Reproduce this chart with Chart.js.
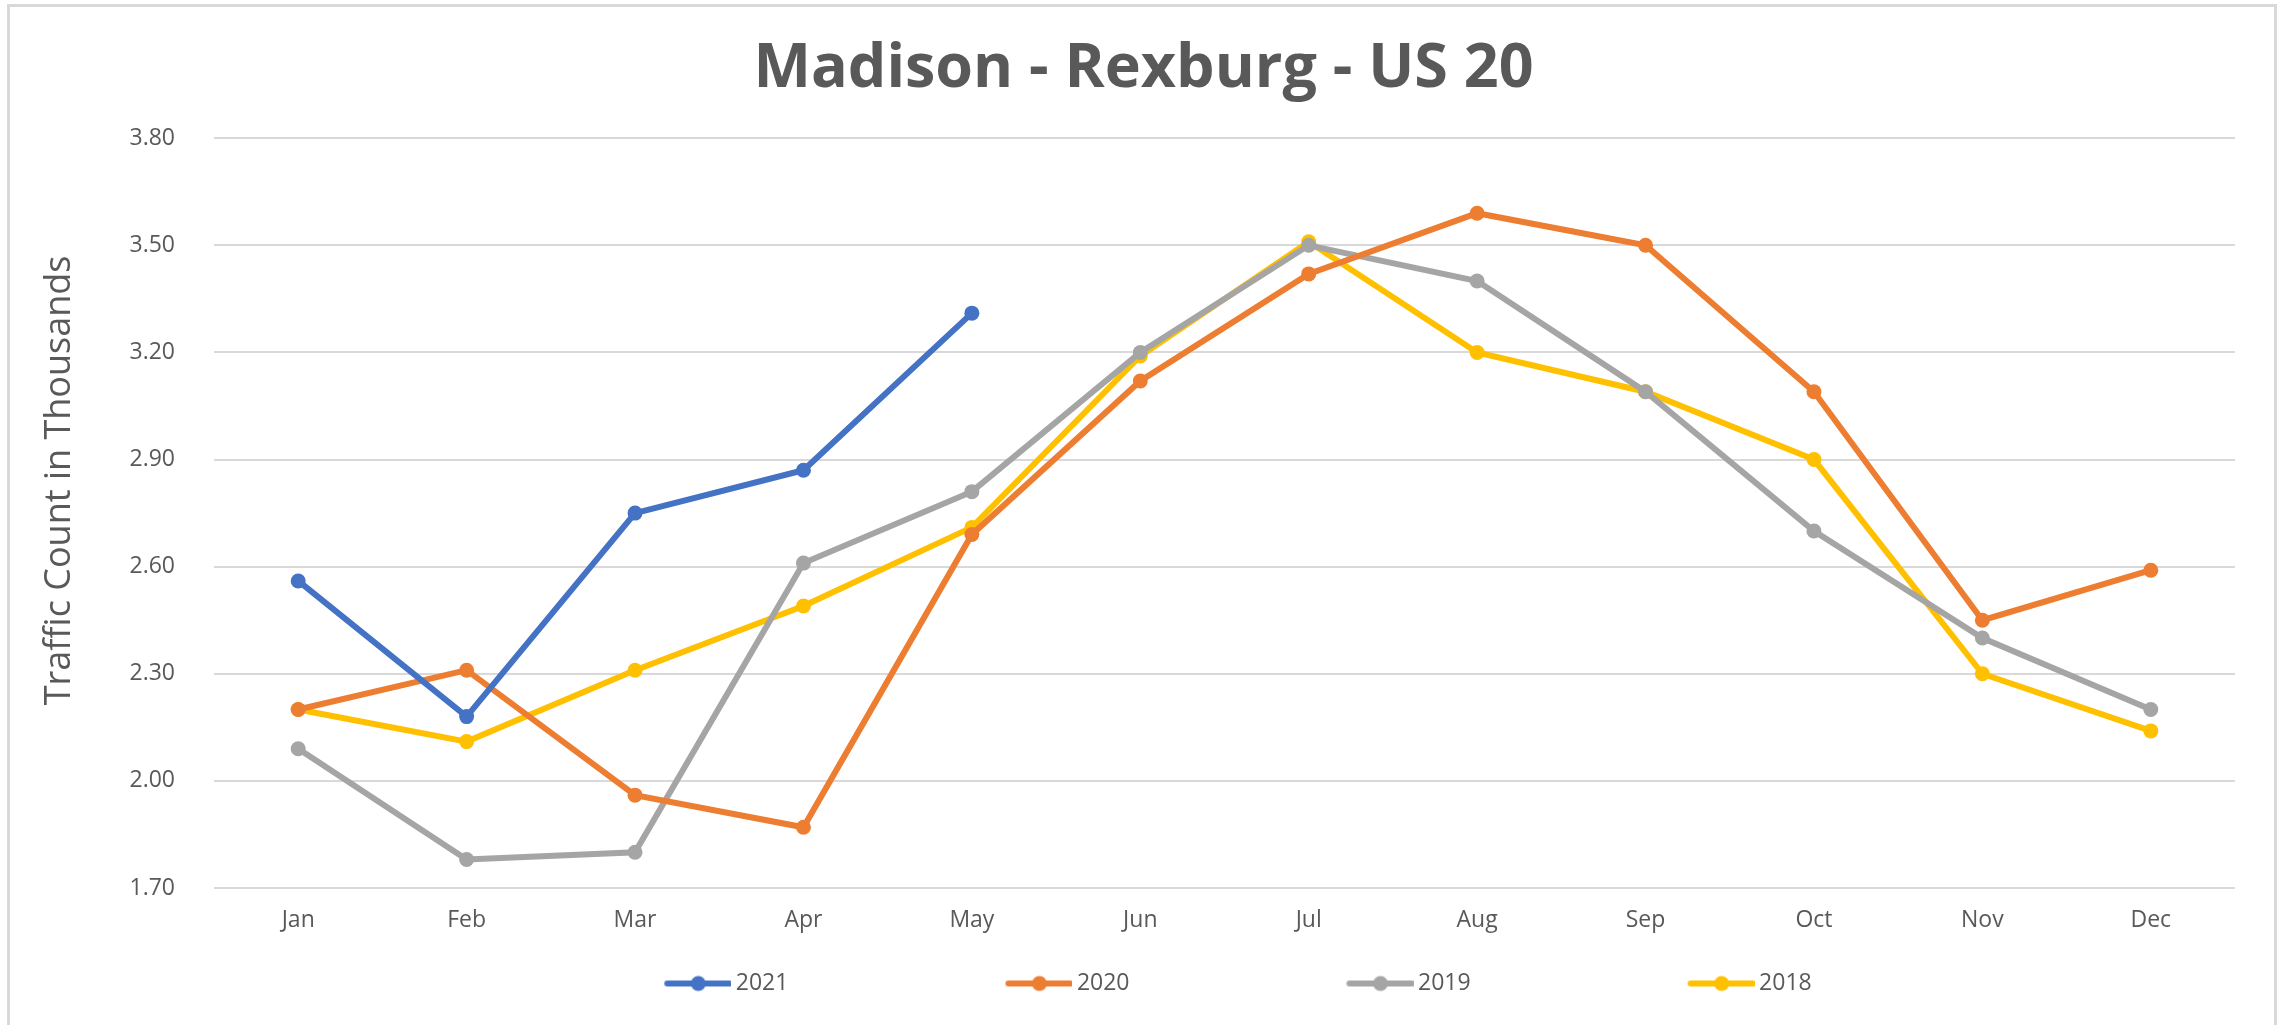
<!DOCTYPE html>
<html>
<head>
<meta charset="utf-8">
<script src="https://cdn.jsdelivr.net/npm/chart.js@4/dist/chart.umd.min.js"></script>
<style>
  html, body { margin: 0; padding: 0; background: #ffffff; overflow: hidden; }
  #wrap { position: relative; width: 2284px; height: 1025px; }
  #frame {
    position: absolute; left: 7px; top: 4px; width: 2270px; height: 1040px;
    border: 3px solid #d9d9d9; box-sizing: border-box; pointer-events: none;
  }
</style>
</head>
<body>
<div id="wrap">
  <canvas id="traffic"></canvas>
  <div id="frame"></div>
</div>
<script>
const months = ["Jan", "Feb", "Mar", "Apr", "May", "Jun", "Jul", "Aug", "Sep", "Oct", "Nov", "Dec"];
const yearLabels = ["2021", "2020", "2019", "2018"];
const counts2021 = [2.56, 2.18, 2.75, 2.87, 3.31, null, null, null, null, null, null, null];
const counts2020 = [2.20, 2.31, 1.96, 1.87, 2.69, 3.12, 3.42, 3.59, 3.50, 3.09, 2.45, 2.59];
const counts2019 = [2.09, 1.78, 1.80, 2.61, 2.81, 3.20, 3.50, 3.40, 3.09, 2.70, 2.40, 2.20];
const counts2018 = [2.20, 2.11, 2.31, 2.49, 2.71, 3.19, 3.51, 3.20, 3.09, 2.90, 2.30, 2.14];
const yearColors = ["#4472c4", "#ed7d31", "#a5a5a5", "#ffc000"];

const canvas = document.getElementById("traffic");
canvas.width = 2284;
canvas.height = 1025;
canvas.style.width = "2284px";
canvas.style.height = "1025px";

const swatchBox = 267; // legend box width, gives the wide spacing between items

// legend swatch: short line with a dot, pushed to the right end of the box
function makeSwatch(color) {
  const c = document.createElement("canvas");
  c.width = swatchBox + 14;
  c.height = 18;
  const g = c.getContext("2d");
  const x1 = c.width - 64, x2 = c.width - 2;
  g.strokeStyle = color;
  g.lineWidth = 6;
  g.lineCap = "round";
  g.beginPath();
  g.moveTo(x1, 9);
  g.lineTo(x2, 9);
  g.stroke();
  g.fillStyle = color;
  g.beginPath();
  g.arc((x1 + x2) / 2, 9, 7.5, 0, Math.PI * 2);
  g.fill();
  return c;
}

function series(label, data, color) {
  return {
    label: label,
    data: data,
    borderColor: color,
    backgroundColor: color,
    borderWidth: 6,
    pointRadius: 7.5,
    pointHoverRadius: 7.5,
    pointBorderWidth: 0,
    pointBackgroundColor: color,
    pointStyle: "circle",
    tension: 0,
    spanGaps: false,
    fill: false
  };
}

// nudge legend and title sideways so they sit where the original has them
const shiftBoxes = {
  id: "shiftBoxes",
  afterLayout(chart) {
    chart.legend.left += 12;
    chart.legend.right += 12;
    chart.titleBlock.left += 21;
    chart.titleBlock.right += 21;
  }
};

new Chart(canvas.getContext("2d"), {
  type: "line",
  data: {
    labels: months,
    datasets: [
      series(yearLabels[0], counts2021, yearColors[0]),
      series(yearLabels[1], counts2020, yearColors[1]),
      series(yearLabels[2], counts2019, yearColors[2]),
      series(yearLabels[3], counts2018, yearColors[3])
    ]
  },
  options: {
    responsive: false,
    animation: false,
    devicePixelRatio: 1,
    layout: { padding: { left: 10, right: 49, top: 0, bottom: 20 } },
    plugins: {
      title: {
        display: true,
        text: "Madison - Rexburg - US 20",
        color: "#595959",
        font: { family: "'Open Sans', sans-serif", size: 61, weight: "bold" },
        padding: { top: 33, bottom: 32 }
      },
      legend: {
        position: "bottom",
        labels: {
          color: "#595959",
          font: { family: "'Open Sans', sans-serif", size: 23 },
          usePointStyle: true,
          pointStyleWidth: swatchBox,
          padding: 10,
          generateLabels(chart) {
            return chart.data.datasets.map((ds, i) => ({
              text: ds.label,
              fillStyle: ds.borderColor,
              strokeStyle: ds.borderColor,
              lineWidth: 0,
              pointStyle: makeSwatch(ds.borderColor),
              hidden: false,
              datasetIndex: i,
              fontColor: "#595959"
            }));
          }
        }
      },
      tooltip: { enabled: false }
    },
    scales: {
      x: {
        offset: true,
        grid: { display: false, drawTicks: false },
        border: { display: false },
        afterFit(scale) {
          scale.height = 74;
        },
        ticks: {
          color: "#595959",
          font: { family: "'Open Sans', sans-serif", size: 23 },
          padding: 19
        }
      },
      y: {
        min: 1.7,
        max: 3.8,
        afterBuildTicks(scale) {
          const vals = [];
          for (let v = 1.7; v <= 3.8001; v += 0.3) vals.push({ value: Math.round(v * 100) / 100 });
          scale.ticks = vals;
        },
        afterFit(scale) {
          scale.width = 204;
        },
        grid: { color: "#d9d9d9", lineWidth: 2, drawTicks: false },
        border: { display: false },
        ticks: {
          color: "#595959",
          font: { family: "'Open Sans', sans-serif", size: 23 },
          padding: 39,
          callback: (v) => Number(v).toFixed(2)
        },
        title: {
          display: true,
          // leading spaces nudge the centred text up, as in the original
          text: "       Traffic Count in Thousands",
          color: "#595959",
          font: { family: "'Open Sans', sans-serif", size: 36 },
          padding: { top: 28, bottom: 0 }
        }
      }
    }
  },
  plugins: [shiftBoxes]
});
</script>
</body>
</html>
